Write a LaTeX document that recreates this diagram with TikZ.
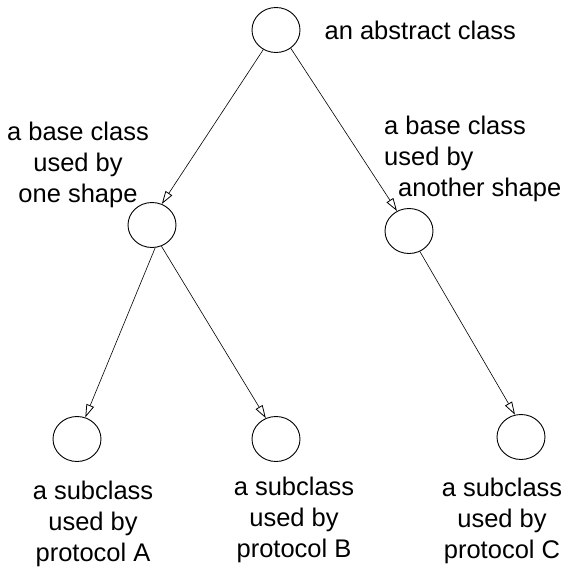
\documentclass[tikz,border=0pt]{standalone}
\usepackage{fontspec}
\setmainfont{Liberation Sans}
\usetikzlibrary{arrows.meta, positioning, shapes.geometric}

\begin{document}
\begin{tikzpicture}[
	x=1pt, y=-1pt,
	cls/.style = {draw, ellipse, minimum width=48pt, minimum height=45pt, inner sep=0pt, line width=0.9pt},
	lbl/.style = {align=center, font=\fontsize{25.5}{31}\selectfont, inner sep=0pt},
	inh/.style = {line width=0.6pt, -{Triangle[open, length=13pt, width=8pt, line width=0.8pt]}}
     ]
		\useasboundingbox (0,0) rectangle (568,571);
%
		\node[cls] (abs)  at (276,30)  {};
		\node[cls] (baseL) at (152,225) {};
		\node[cls] (baseR) at (409,231) {};
		\node[cls] (subA) at (77,439)  {};
		\node[cls] (subB) at (276,439) {};
		\node[cls] (subC) at (521,437) {};
%
		\node[lbl, right=24pt of abs] (tabs) {an abstract class};
		\node[lbl] (tbaseL) at (78,165) {a base class\\used by\\one shape};
		\node[lbl, align=left, anchor=west] (tbaseR) at (384,159) {a base class\\used by\\\hspace*{14pt}another shape};
		\node[lbl] (tsubA) at (93,524) {a subclass\\used by\\protocol A};
		\node[lbl] (tsubB) at (294,520) {a subclass\\used by\\protocol B};
		\node[lbl] (tsubC) at (502,521) {a subclass\\used by\\protocol C};
%
		\draw[inh] (abs.237) -- (baseL.65);
		\draw[inh] (abs.309) -- (baseR.121);
		\draw[inh] (baseL.278) -- (subA.69);
		\draw[inh] (baseL.294) -- (subB.116);
		\draw[inh] (baseR.298) -- (subC.105);
\end{tikzpicture}
\end{document}
